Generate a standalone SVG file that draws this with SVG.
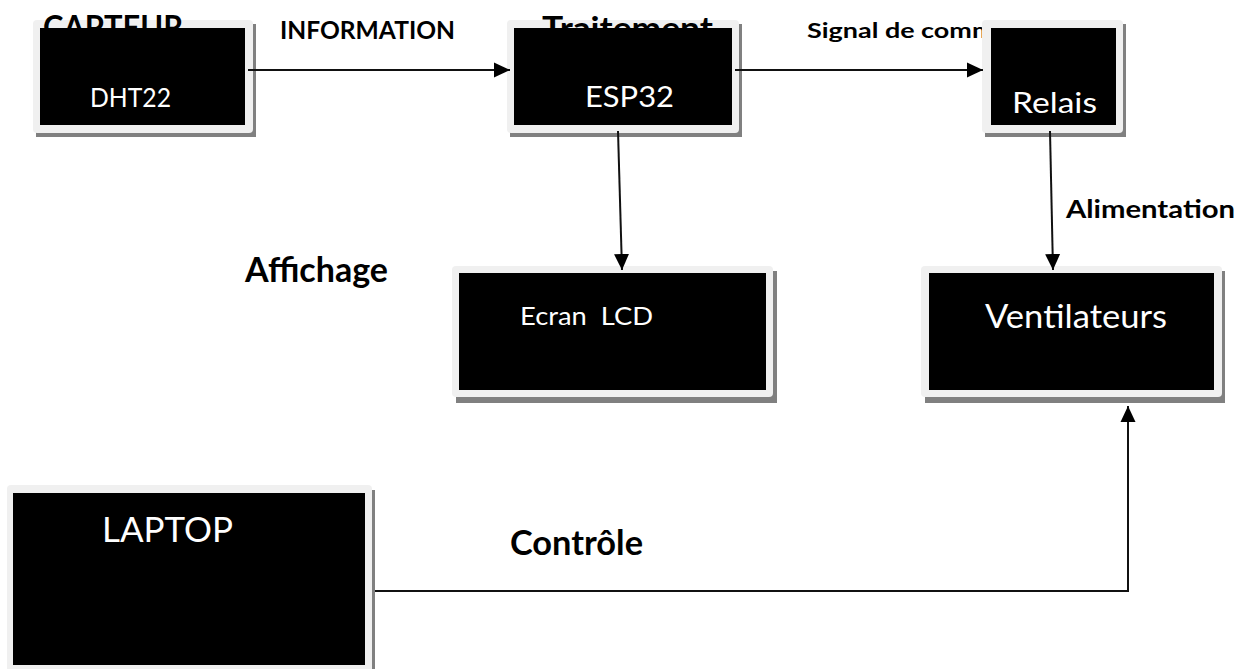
<svg xmlns="http://www.w3.org/2000/svg" width="1247" height="669" viewBox="0 0 1247 669">
<style>
  .shadow { fill: #808080; }
  .frame { fill: #f0f0f0; }
  .body { fill: #000000; }
  .ntext { font-family: Lato, "Liberation Sans", sans-serif; fill: #ffffff; }
  .label { font-family: Lato, "Liberation Sans", sans-serif; font-weight: bold; fill: #000000; }
  .conn { fill: none; stroke: #111111; stroke-width: 2; }
</style>
<defs>
  <marker id="arrow" markerUnits="userSpaceOnUse" markerWidth="17" markerHeight="16" refX="16" refY="8" orient="auto">
    <path d="M0,0.5 L16,8 L0,15.5 Z" fill="#000000"/>
  </marker>
</defs>
<rect x="0" y="0" width="1247" height="669" fill="#ffffff"/>

<g id="connector-labels">
  <text class="label" x="280" y="39" font-size="24" textLength="175" lengthAdjust="spacingAndGlyphs">INFORMATION</text>
  <text class="label" x="807" y="38" font-size="21" textLength="246" lengthAdjust="spacingAndGlyphs">Signal de commande</text>
  <text class="label" x="1066" y="218" font-size="25" textLength="169" lengthAdjust="spacingAndGlyphs">Alimentation</text>
  <text class="label" x="245" y="282" font-size="33.5" textLength="143" lengthAdjust="spacingAndGlyphs">Affichage</text>
  <text class="label" x="510" y="555" font-size="35" textLength="133" lengthAdjust="spacingAndGlyphs">Contrôle</text>
</g>

<g id="node-capteur">
  <rect class="shadow" x="36" y="24" width="220" height="113"/>
  <rect class="frame" x="33" y="20" width="220" height="113" rx="4"/>
  <text class="label" x="43" y="39" font-size="32" textLength="140" lengthAdjust="spacingAndGlyphs">CAPTEUR</text>
  <rect class="body" x="40" y="28" width="205" height="97"/>
  <text class="ntext" x="90" y="107" font-size="26.5" textLength="81" lengthAdjust="spacingAndGlyphs">DHT22</text>
</g>

<g id="node-esp32">
  <rect class="shadow" x="510" y="24" width="232" height="113"/>
  <rect class="frame" x="507" y="20" width="232" height="113" rx="4"/>
  <text class="label" x="542" y="40" font-size="32" textLength="171" lengthAdjust="spacingAndGlyphs">Traitement</text>
  <rect class="body" x="514" y="28" width="218" height="97"/>
  <text class="ntext" x="585" y="107" font-size="28" textLength="89" lengthAdjust="spacingAndGlyphs">ESP32</text>
</g>

<g id="node-relais">
  <rect class="shadow" x="985" y="24" width="141" height="113"/>
  <rect class="frame" x="982" y="20" width="141" height="113" rx="4"/>
  <rect class="body" x="991" y="28" width="125" height="97"/>
  <text class="ntext" x="1012" y="113" font-size="28" textLength="85" lengthAdjust="spacingAndGlyphs">Relais</text>
</g>

<g id="node-lcd">
  <rect class="shadow" x="456" y="271" width="321" height="132"/>
  <rect class="frame" x="452" y="266" width="321" height="131" rx="4"/>
  <rect class="body" x="459" y="273" width="307" height="117"/>
  <text class="ntext" x="520" y="325" font-size="25" textLength="133" lengthAdjust="spacingAndGlyphs" style="white-space:pre">Ecran  LCD</text>
</g>

<g id="node-ventilateurs">
  <rect class="shadow" x="925" y="271" width="300" height="132"/>
  <rect class="frame" x="921" y="266" width="301" height="131" rx="4"/>
  <rect class="body" x="929" y="273" width="285" height="117"/>
  <text class="ntext" x="985" y="328" font-size="32" textLength="182" lengthAdjust="spacingAndGlyphs">Ventilateurs</text>
</g>

<g id="node-laptop">
  <rect class="shadow" x="10" y="490" width="365" height="190"/>
  <rect class="frame" x="7" y="485" width="365" height="190" rx="4"/>
  <rect class="body" x="13" y="493" width="352" height="172"/>
  <text class="ntext" x="102" y="542" font-size="35" textLength="131" lengthAdjust="spacingAndGlyphs">LAPTOP</text>
</g>

<g id="connectors">
  <line class="conn" x1="248" y1="70" x2="510" y2="70" marker-end="url(#arrow)"/>
  <line class="conn" x1="735" y1="70" x2="983" y2="70" marker-end="url(#arrow)"/>
  <line class="conn" x1="618" y1="131" x2="622" y2="270" marker-end="url(#arrow)"/>
  <line class="conn" x1="1050" y1="131" x2="1053" y2="270" marker-end="url(#arrow)"/>
  <polyline class="conn" points="375,591 1128,591 1128,406" marker-end="url(#arrow)"/>
</g>
</svg>
